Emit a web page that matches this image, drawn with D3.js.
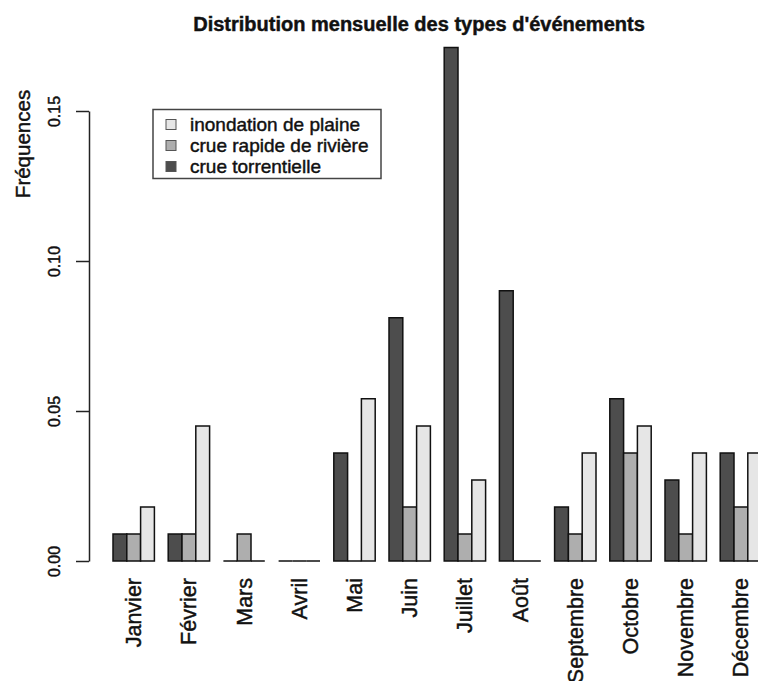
<!DOCTYPE html>
<html>
<head>
<meta charset="utf-8">
<script src="https://cdn.jsdelivr.net/npm/d3@7"></script>
<style>
  body { margin: 0; background: #fff; }
  text { font-family: "Liberation Sans", Arial, sans-serif; fill: #111; stroke: #111; stroke-width: 0.45px; }
</style>
</head>
<body>
<div id="svg-container"></div>
<script>
(function() {
  // config variables
  const width = 758;
  const height = 681;

  // data
  var months = ['Janvier', 'Février', 'Mars', 'Avril', 'Mai', 'Juin', 'Juillet', 'Août',
    'Septembre', 'Octobre', 'Novembre', 'Décembre'];
  var seriesNames = ['crue torrentielle', 'crue rapide de rivière', 'inondation de plaine'];
  var torrentielle = [0.0090, 0.0090, 0, 0, 0.0360, 0.0811, 0.1712, 0.0901, 0.0180, 0.0541, 0.0270, 0.0360];
  var rapide = [0.0090, 0.0090, 0.0090, 0, 0, 0.0180, 0.0090, 0, 0.0090, 0.0360, 0.0090, 0.0180];
  var plaine = [0.0180, 0.0450, 0, 0, 0.0541, 0.0450, 0.0270, 0, 0.0360, 0.0450, 0.0360, 0.0360];
  var yTicks = [0, 0.05, 0.10, 0.15];
  var colors = ['#4D4D4D', '#AEAEAE', '#E6E6E6'];

  var series = [torrentielle, rapide, plaine];

  var svg = d3.select("#svg-container")
    .append("svg")
    .attr("width", width)
    .attr("height", height);

  svg.append("rect")
    .attr("width", width)
    .attr("height", height)
    .attr("fill", "#fff");

  var x = d3.scaleBand()
    .domain(months)
    .range([99.2, 775.4])
    .paddingInner(0.25)
    .paddingOuter(0.25);

  var xSub = d3.scaleBand()
    .domain(d3.range(series.length))
    .range([0, x.bandwidth()]);

  var y = d3.scaleLinear()
    .domain([0, 0.15])
    .range([561, 111]);

  // bars as paths so that zero bars still show a line
  var bars = [];
  months.forEach(function(m, i) {
    series.forEach(function(s, k) {
      bars.push({ month: m, k: k, value: s[i] });
    });
  });

  svg.append("g")
    .selectAll("path")
    .data(bars)
    .join("path")
    .attr("d", function(d) {
      var x0 = x(d.month) + xSub(d.k);
      var x1 = x0 + xSub.bandwidth();
      var y0 = y(0), y1 = y(d.value);
      return "M" + x0 + "," + y0 + "H" + x1 + "V" + y1 + "H" + x0 + "Z";
    })
    .attr("fill", function(d) { return colors[d.k]; })
    .attr("stroke", "#111")
    .attr("stroke-width", 1.5);

  // y axis
  var yAxis = svg.append("g")
    .attr("transform", "translate(89,0)")
    .call(d3.axisLeft(y).tickValues(yTicks).tickFormat(d3.format(".2f")).tickSize(13).tickSizeOuter(0));
  yAxis.selectAll("path, line").attr("stroke", "#222").attr("stroke-width", 1.5);
  yAxis.selectAll("text")
    .attr("transform", "rotate(-90)")
    .attr("x", 0)
    .attr("y", -29)
    .attr("dy", null)
    .attr("text-anchor", "middle")
    .style("font-size", "16px");

  // x labels
  var xAxis = svg.append("g")
    .attr("transform", "translate(0,578)")
    .call(d3.axisBottom(x).tickSize(0));
  xAxis.select(".domain").remove();
  xAxis.selectAll("text")
    .attr("transform", "rotate(-90)")
    .attr("x", 0)
    .attr("y", 7.5)
    .attr("dy", null)
    .attr("text-anchor", "end")
    .style("font-size", "21.5px");

  svg.append("text")
    .attr("transform", "translate(30,144) rotate(-90)")
    .attr("text-anchor", "middle")
    .style("font-size", "20.5px")
    .text("Fréquences");

  svg.append("text")
    .attr("x", 419)
    .attr("y", 31)
    .attr("text-anchor", "middle")
    .style("font-size", "20px")
    .style("font-weight", "bold")
    .text("Distribution mensuelle des types d'événements");

  // legend (reversed order)
  var legend = svg.append("g");
  legend.append("rect")
    .attr("x", 153)
    .attr("y", 109.5)
    .attr("width", 228)
    .attr("height", 69)
    .attr("fill", "#fff")
    .attr("stroke", "#444")
    .attr("stroke-width", 1.5);

  var rows = legend.selectAll("g.row")
    .data(d3.range(series.length).reverse())
    .join("g")
    .attr("class", "row")
    .attr("transform", function(d, i) { return "translate(0," + (124.5 + i * 21) + ")"; });
  rows.append("rect")
    .attr("x", 166)
    .attr("y", -5)
    .attr("width", 10)
    .attr("height", 10)
    .attr("fill", function(d) { return colors[d]; })
    .attr("stroke", "#555")
    .attr("stroke-width", 1);
  rows.append("text")
    .attr("x", 190)
    .attr("y", 6.5)
    .style("font-size", "19px")
    .text(function(d) { return seriesNames[d]; });

}());
</script>
</body>
</html>
